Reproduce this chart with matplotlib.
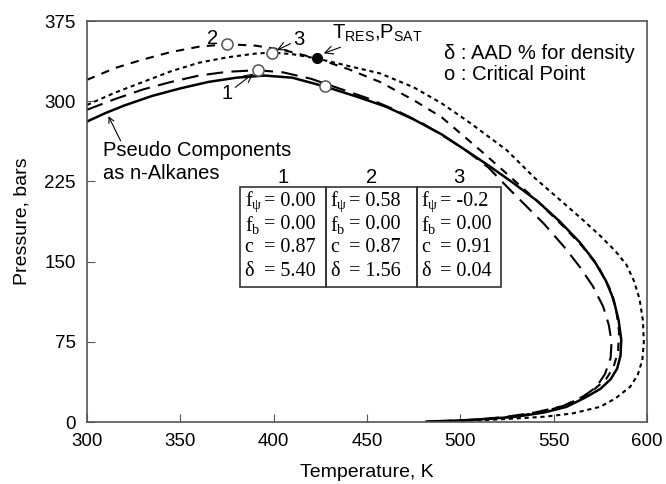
import matplotlib.pyplot as plt
from matplotlib.patches import Rectangle

plt.rcParams['font.family'] = ['Liberation Sans', 'DejaVu Sans']

# pseudo components as n-alkanes (solid)
T_pc = [300, 310, 320, 335, 350, 365, 380, 395, 410, 427, 445, 460, 475, 490, 503, 515, 528, 541,
        553, 564, 572, 578, 582, 584.8, 586.2, 585.8, 584, 580.5, 575, 567, 557, 545, 530, 515, 500, 482]
P_pc = [281, 289, 296, 305, 312, 318, 322, 324, 322, 314, 304, 295, 283, 269, 254, 240, 224, 207,
        188, 168, 150, 132, 115, 95, 77, 62, 50, 40, 31, 23, 14.3, 9, 5, 3, 1.5, 0.5]

# case 1 (long dashes)
T_1 = [300, 315, 330, 345, 360, 375, 391.4, 405, 420, 435, 450, 465, 480, 495, 503, 515, 525, 532,
       545, 556, 564, 571, 576.5, 579.5, 581, 580.5, 577.5, 573, 566, 555, 540, 525, 510, 495, 482]
P_1 = [292, 302, 311, 318, 324, 327.5, 329, 327, 321, 312, 303, 292, 279, 263, 254, 238, 220, 207.7,
       185, 163, 145, 127, 108, 91, 75, 60, 45, 33, 24, 15, 9, 5, 2.5, 1, 0.3]

# case 2 (medium dashes)
T_2 = [300, 315, 330, 345, 360, 374.8, 390, 405, 423, 440, 457, 475, 490, 510.5, 525, 541, 554, 565,
       574, 580, 583.5, 585, 584.5, 582, 578, 572, 565, 556, 545, 530, 515, 500, 482]
P_2 = [320, 331, 339, 346, 351, 353.3, 352, 348, 340, 330, 318, 301, 285, 254.4, 232, 207, 185, 165,
       145, 125, 105, 85, 66, 51, 40, 31, 23, 15.5, 10, 5.5, 3, 1.5, 0.4]

# case 3 (dotted)
T_3 = [300, 315, 330, 345, 360, 375, 390, 399, 410, 423, 440, 457, 475, 490, 505, 525, 540, 553.4,
       565, 575, 583, 589, 593, 596, 597.8, 598.3, 597.5, 595, 591, 583, 575, 560, 545, 533.6, 515, 500, 485]
P_3 = [296.5, 308, 318, 328, 336, 341, 344.5, 345.5, 344, 340, 333, 326, 313, 298, 280, 254, 228, 207.7,
       190, 174, 160, 147, 132, 115, 95, 75, 58, 44, 33, 22, 14.3, 8, 5, 3.7, 2, 1, 0.3]

# critical points and reservoir condition
crit_T = [427.5, 391.4, 374.8, 399]
crit_P = [314, 329, 353.3, 345.5]
res_T, res_P = 423, 340

cases = ['1', '2', '3']
f_psi = ['0.00', '0.58', '-0.2']
f_b = ['0.00', '0.00', '0.00']
c_val = ['0.87', '0.87', '0.91']
delta = ['5.40', '1.56', '0.04']

fig = plt.figure(figsize=(6.66, 4.84), dpi=100)
ax = fig.add_axes([0.1306, 0.128, 0.8409, 0.8286])

ax.plot(T_pc, P_pc, color='black', lw=1.8)
ax.plot(T_1, P_1, color='black', lw=1.5, dashes=(8, 4))
ax.plot(T_2, P_2, color='black', lw=1.5, dashes=(4, 3.5))
ax.plot(T_3, P_3, color='black', lw=1.5, dashes=(2, 1.8))
ax.plot(crit_T, crit_P, 'o', ms=8, mfc='white', mec='#555555', mew=1.1, zorder=5)
ax.plot(res_T, res_P, 'o', ms=7, color='black', zorder=5)

ax.set_xlim(300, 600)
ax.set_ylim(0, 375)
ax.set_xticks([300, 350, 400, 450, 500, 550, 600])
ax.set_yticks([0, 75, 150, 225, 300, 375])
ax.tick_params(direction='in', length=6, labelsize=13.5, color='#555555')
ax.tick_params(axis='x', pad=8)
ax.tick_params(axis='y', pad=8)
for s in ax.spines.values():
    s.set_color('#555555')
    s.set_linewidth(1.2)
ax.set_xlabel('Temperature, K', fontsize=14, labelpad=10)
ax.set_ylabel('Pressure, bars', fontsize=14, labelpad=10)

arw = dict(arrowstyle='->', color='black', lw=0.8, shrinkA=0, shrinkB=4)
fs = 14.5
ax.text(367.5, 359, '2', fontsize=fs, ha='center', va='center')
ax.annotate('3', xy=(399, 345.5), xytext=(413.5, 357.5), fontsize=fs, ha='center', va='center',
            arrowprops=arw)
ax.annotate('1', xy=(391.4, 329), xytext=(375, 307), fontsize=fs, ha='center', va='center',
            arrowprops=arw)
ax.annotate(r'T$_{\mathregular{RES}}$,P$_{\mathregular{SAT}}$', xy=(424, 343), xytext=(431.5, 363),
            fontsize=fs, ha='left', va='center', arrowprops=arw)
ax.text(308.5, 254, 'Pseudo Components', fontsize=fs, ha='left', va='center')
ax.text(308.5, 232.5, 'as n-Alkanes', fontsize=fs, ha='left', va='center')
ax.annotate('', xy=(311.5, 286), xytext=(318, 263),
            arrowprops=dict(arrowstyle='->', color='black', lw=0.8, shrinkA=0, shrinkB=0))

ax.text(0.637, 0.92, 'δ : AAD % for density', transform=ax.transAxes, fontsize=fs, va='center')
ax.text(0.637, 0.866, 'o : Critical Point', transform=ax.transAxes, fontsize=fs, va='center')

# parameter table
col_left = [382, 428, 476.6]
col_right = [428, 476.6, 521.6]
tab_bottom, tab_top = 126.6, 220.1
row_P = [206, 184.3, 163.5, 140.6]
serif = ['Liberation Serif', 'DejaVu Serif']
labels = [r'$\mathregular{f_ψ}$', r'$\mathregular{f_b}$', 'c', 'δ']
for i in range(3):
    ax.add_patch(Rectangle((col_left[i], tab_bottom), col_right[i] - col_left[i], tab_top - tab_bottom,
                           fill=False, ec='#333333', lw=1.2))
    ax.text((col_left[i] + col_right[i]) / 2, 228.5, cases[i], fontsize=fs, ha='center', va='center')
    x0 = col_left[i] + 2.4
    x1 = x0 + 10.2
    values = [f_psi[i], f_b[i], c_val[i], delta[i]]
    for lab, val, p in zip(labels, values, row_P):
        ax.text(x0, p, lab, fontsize=14.5, family=serif, ha='left', va='center')
        ax.text(x1, p, '= ' + val, fontsize=14.5, family=serif, ha='left', va='center')

fig.savefig('out.png', dpi=100)
